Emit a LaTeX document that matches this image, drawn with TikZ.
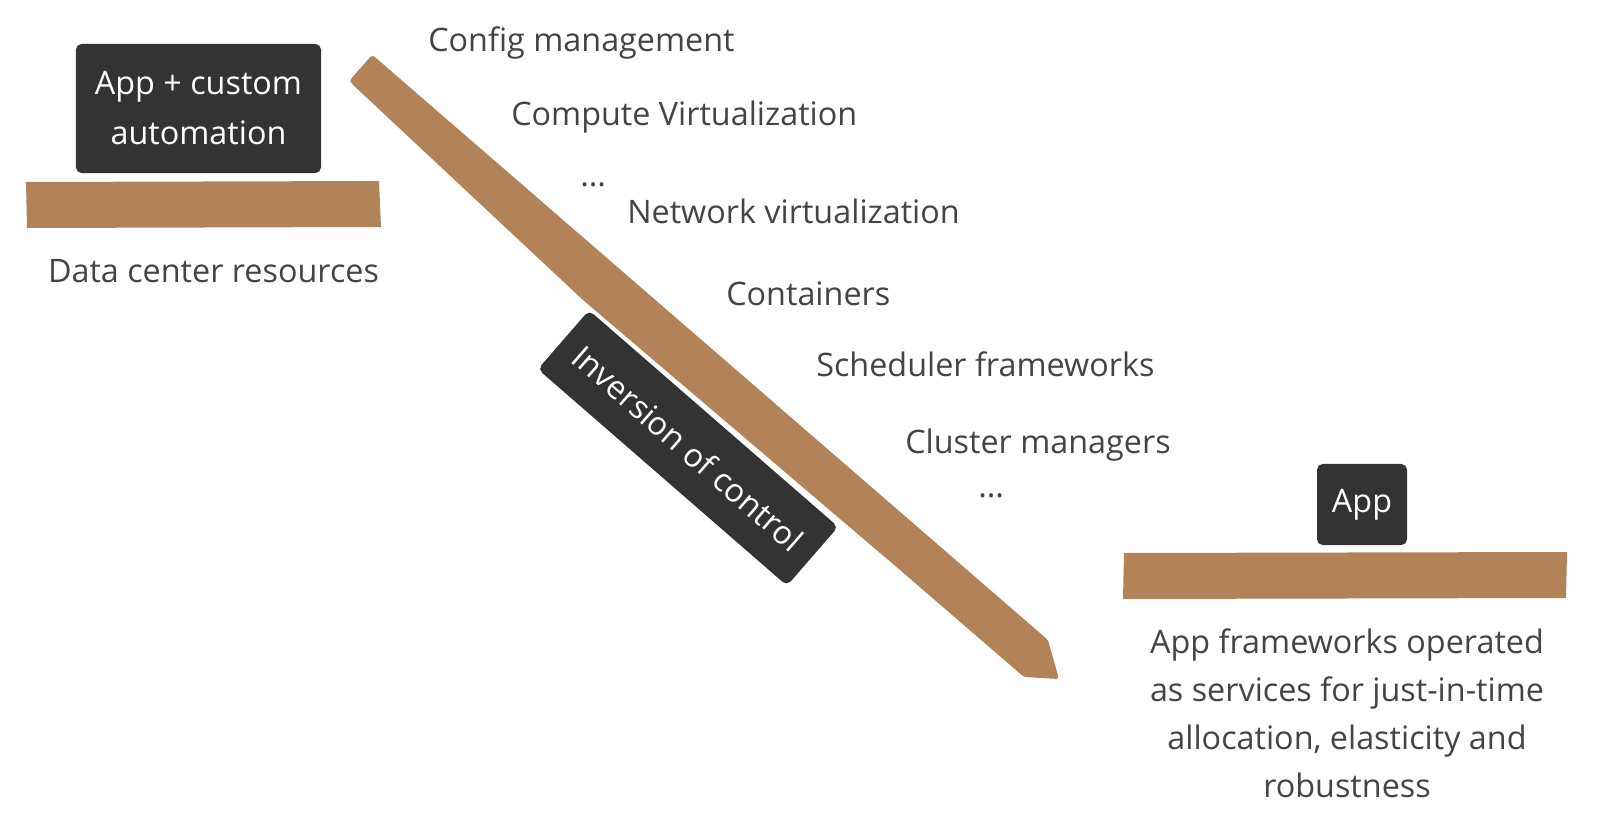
\documentclass[tikz,border=0pt]{standalone}
\usepackage{fontspec}
\setmainfont{Open Sans}

\definecolor{barbrown}{RGB}{178,130,88}
\definecolor{boxdark}{RGB}{51,51,51}
\definecolor{txtgray}{RGB}{68,68,68}

\begin{document}
\begin{tikzpicture}[x=0.025cm, y=-0.025cm]
    \tikzstyle{txt}=[inner sep=0pt, text=txtgray, font=\fontsize{23}{34}\selectfont]
    \tikzstyle{darkbox}=[fill=boxdark, rounded corners=4pt, text=white, align=center, font=\fontsize{23}{35.5}\selectfont]
    \tikzstyle{bar}=[fill=barbrown]

    \useasboundingbox (0,0) rectangle (1600,835);

    % layers
    \fill[bar] (26,182) -- (379,181) -- (381,227) -- (27,228) -- cycle;
    \fill[bar] (1124,553) -- (1567,552) -- (1566,598) -- (1123,599) -- cycle;

    % the long arrow
    \fill[bar, rounded corners=2pt] (372,55) -- (376,58) -- (1048,640) -- (1059,679) -- (1024,677) -- (900,570) -- (583,300) -- (351,83) -- (350,80) -- cycle;

    \node[darkbox, minimum width=6.125cm, minimum height=3.225cm] (appcustom) at (198.5,108.5) {App + custom\\automation};
    \node[darkbox, minimum width=2.25cm, minimum height=2.025cm] (app) at (1362,504.5) {App};
    \node[darkbox, minimum width=8.25cm, minimum height=1.95cm, rotate=-41] (ioc) at (688,448) {Inversion of control};

    \node[txt, anchor=base] (dcres) at (213.5,282) {Data center resources};
    \node[txt, anchor=base, align=center] (appfw) at (1347,797) {App frameworks operated\\as services for just-in-time\\allocation, elasticity and\\robustness};

    \node[txt, anchor=base west] (cfg) at (428,51) {Config management};
    \node[txt, anchor=base west] (cvirt) at (511,125) {Compute Virtualization};
    \node[txt, anchor=base west] (dots1) at (580,186) {...};
    \node[txt, anchor=base west] (nvirt) at (627,223) {Network virtualization};
    \node[txt, anchor=base west] (cont) at (726,305) {Containers};
    \node[txt, anchor=base west] (sched) at (816,376) {Scheduler frameworks};
    \node[txt, anchor=base west] (clust) at (905,453) {Cluster managers};
    \node[txt, anchor=base west] (dots2) at (978,497) {...};
\end{tikzpicture}
\end{document}
